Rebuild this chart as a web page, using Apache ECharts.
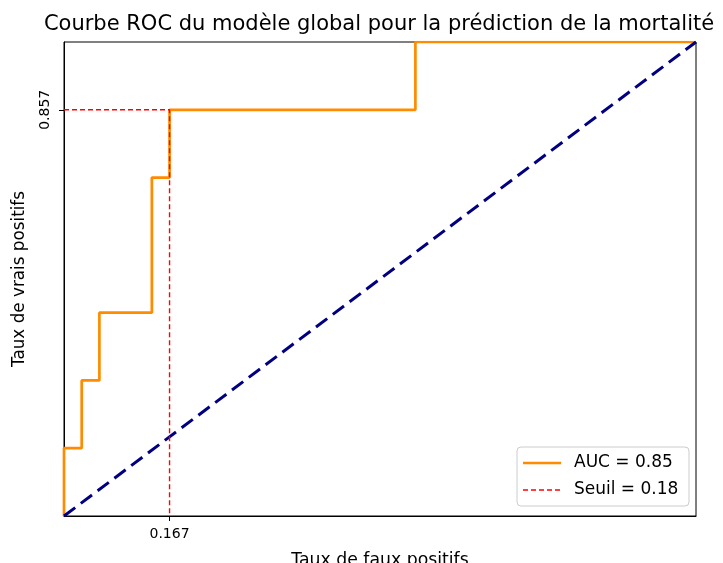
<!DOCTYPE html>
<html>
<head>
<meta charset="utf-8">
<script src="https://cdn.jsdelivr.net/npm/echarts@6/dist/echarts.min.js"></script>
<style>
  html, body { margin: 0; padding: 0; background: #fff; }
  #chart { width: 723px; height: 563px; }
</style>
</head>
<body>
<div id="chart"></div>
<script>
// ROC curve points (false positive rate, true positive rate)
const fpr = [0, 0, 0.028, 0.028, 0.056, 0.056, 0.139, 0.139, 0.167, 0.167, 0.556, 0.556, 1];
const tpr = [0, 0.143, 0.143, 0.286, 0.286, 0.429, 0.429, 0.714, 0.714, 0.857, 0.857, 1, 1];
const aucValue = 0.85;

// Chosen operating point
const thresholdValue = 0.18;
const opFpr = 0.167;
const opTpr = 0.857;

// Chance diagonal
const chanceX = [0, 1];
const chanceY = [0, 1];

// Tick labels shown on the axes
const xTicks = [0.167];
const yTicks = [0.857];

const titleText = 'Courbe ROC du modèle global pour la prédiction de la mortalité';
const xLabel = 'Taux de faux positifs';
const yLabel = 'Taux de vrais positifs';

const font = 'DejaVu Sans';
const rocName = 'AUC = ' + aucValue.toFixed(2);
const thrName = 'Seuil = ' + thresholdValue.toFixed(2);

const rocData = fpr.map((x, i) => [x, tpr[i]]);
const chanceData = chanceX.map((x, i) => [x, chanceY[i]]);
const thrData = [[0, opTpr], [opFpr, opTpr], [opFpr, 0]];

const ORANGE = '#ff8c00';
const NAVY = '#000080';
const RED = '#ff0000';

const chart = echarts.init(document.getElementById('chart'), null, { renderer: 'canvas' });

const gridLeft = 64, gridTop = 42, gridW = 632, gridH = 474;

// Legend box (bottom-right corner of the plot)
const lg = { x: 517, y: 447, w: 172, h: 59 };
const legendRows = [
  { name: rocName, color: ORANGE, width: 2.7, dash: null, y: 463 },
  { name: thrName, color: RED, width: 1.4, dash: [5, 3], y: 490 }
];
const legendGraphics = [{
  type: 'rect',
  shape: { x: lg.x, y: lg.y, width: lg.w, height: lg.h, r: 4 },
  style: { fill: 'rgba(255,255,255,0.85)', stroke: '#cccccc', lineWidth: 1 },
  z: 100
}];
legendRows.forEach(r => {
  legendGraphics.push({
    type: 'line',
    shape: { x1: lg.x + 6, y1: r.y, x2: lg.x + 44, y2: r.y },
    style: { stroke: r.color, lineWidth: r.width, lineDash: r.dash },
    z: 101
  });
  legendGraphics.push({
    type: 'text',
    x: lg.x + 57, y: r.y,
    style: { text: r.name, font: '17px "DejaVu Sans"', fill: '#000', align: 'left', verticalAlign: 'middle' },
    z: 101
  });
});

chart.setOption({
  animation: false,
  backgroundColor: '#fff',
  textStyle: { fontFamily: font },
  graphic: [{
    type: 'text',
    x: gridLeft + gridW / 2 - 1,
    y: 24.5,
    style: {
      text: titleText,
      font: '21px "DejaVu Sans"',
      fill: '#000',
      align: 'center',
      verticalAlign: 'middle'
    }
  }].concat(legendGraphics),
  grid: {
    left: gridLeft, top: gridTop, width: gridW, height: gridH,
    containLabel: false, outerBoundsMode: 'none',
    show: true, borderColor: '#000', borderWidth: 1, backgroundColor: 'transparent'
  },
  xAxis: {
    type: 'value', min: 0, max: 1,
    name: xLabel, nameLocation: 'middle', nameGap: 36,
    nameTextStyle: { fontFamily: font, fontSize: 17.3, color: '#000' },
    axisLine: { show: true, onZero: false, lineStyle: { color: '#000', width: 1 } },
    splitLine: { show: false },
    axisTick: { show: true, customValues: xTicks, length: 5, inside: false, lineStyle: { color: '#000' } },
    axisLabel: { customValues: xTicks, formatter: v => v.toFixed(3), fontSize: 14, color: '#000', margin: 11, fontFamily: font }
  },
  yAxis: {
    type: 'value', min: 0, max: 1,
    name: yLabel, nameLocation: 'middle', nameGap: 36,
    nameTextStyle: { fontFamily: font, fontSize: 16.8, color: '#000' },
    axisLine: { show: true, onZero: false, lineStyle: { color: '#000', width: 1 } },
    splitLine: { show: false },
    axisTick: { show: true, customValues: yTicks, length: 5, inside: false, lineStyle: { color: '#000' } },
    axisLabel: { customValues: yTicks, formatter: v => v.toFixed(3), fontSize: 14, color: '#000', margin: 12, rotate: 90, fontFamily: font }
  },
  series: [
    {
      name: rocName, type: 'line', data: rocData, symbol: 'none',
      lineStyle: { color: ORANGE, width: 2.7 }, itemStyle: { color: ORANGE }, z: 2
    },
    {
      name: 'chance', type: 'line', data: chanceData, symbol: 'none',
      lineStyle: { color: NAVY, width: 3, type: [14, 7] }, itemStyle: { color: NAVY }, z: 3
    },
    {
      name: thrName, type: 'line', data: thrData, symbol: 'none',
      lineStyle: { color: RED, width: 1.4, type: [5, 3] }, itemStyle: { color: RED }, z: 4
    }
  ]
});
</script>
</body>
</html>
